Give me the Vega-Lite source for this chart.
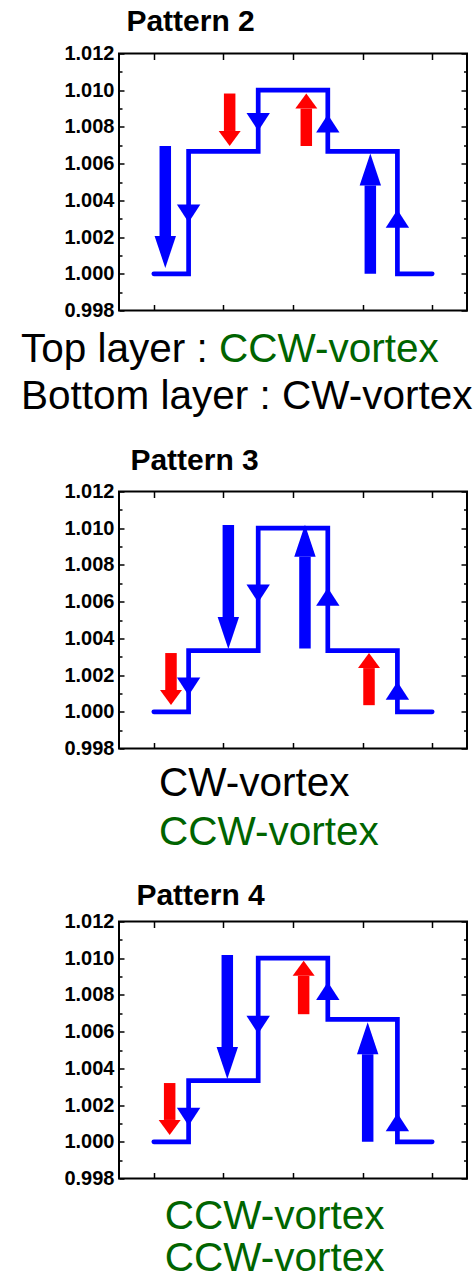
{
  "$schema": "https://vega.github.io/schema/vega-lite/v6.json",
  "padding": {"left": 20, "top": 5.5, "right": 0, "bottom": 0},
  "spacing": 25,
  "config": {
    "view": {"stroke": "#000000", "strokeWidth": 2},
    "axis": {"domain": false, "grid": false, "tickColor": "#000000", "tickWidth": 1.5, "labelFont": "Liberation Sans", "labelFontSize": 20, "labelFontWeight": "bold", "labelColor": "#000000"},
    "title": {"font": "Liberation Sans", "fontSize": 30, "fontWeight": "bold", "color": "#000000"},
    "text": {"font": "Liberation Sans", "fontSize": 40.5}
  },
  "datasets": {
    "step": [
      {"panel": 2, "x": 1, "y": 1.0}, {"panel": 2, "x": 1.5, "y": 1.00667}, {"panel": 2, "x": 2.5, "y": 1.01}, {"panel": 2, "x": 3.5, "y": 1.00667}, {"panel": 2, "x": 4.5, "y": 1.0}, {"panel": 2, "x": 5, "y": 1.0},
      {"panel": 3, "x": 1, "y": 1.0}, {"panel": 3, "x": 1.5, "y": 1.00333}, {"panel": 3, "x": 2.5, "y": 1.01}, {"panel": 3, "x": 3.5, "y": 1.00333}, {"panel": 3, "x": 4.5, "y": 1.0}, {"panel": 3, "x": 5, "y": 1.0},
      {"panel": 4, "x": 1, "y": 1.0}, {"panel": 4, "x": 1.5, "y": 1.00333}, {"panel": 4, "x": 2.5, "y": 1.01}, {"panel": 4, "x": 3.5, "y": 1.00667}, {"panel": 4, "x": 4.5, "y": 1.0}, {"panel": 4, "x": 5, "y": 1.0}
    ],
    "arrows": [
      {"panel": 2, "kind": "main", "dir": "down", "x": 1.165, "from": 1.00696, "to": 1.00206},
      {"panel": 2, "kind": "main", "dir": "up", "x": 4.111, "from": 1.0, "to": 1.00481},
      {"panel": 2, "kind": "minor", "dir": "down", "x": 2.09, "from": 1.00982, "to": 1.00778},
      {"panel": 2, "kind": "minor", "dir": "up", "x": 3.191, "from": 1.00696, "to": 1.009},
      {"panel": 3, "kind": "main", "dir": "down", "x": 2.071, "from": 1.01018, "to": 1.00516},
      {"panel": 3, "kind": "main", "dir": "up", "x": 3.172, "from": 1.00345, "to": 1.00844},
      {"panel": 3, "kind": "minor", "dir": "down", "x": 1.247, "from": 1.0032, "to": 1.00118},
      {"panel": 3, "kind": "minor", "dir": "up", "x": 4.092, "from": 1.00036, "to": 1.00238},
      {"panel": 4, "kind": "main", "dir": "down", "x": 2.056, "from": 1.01018, "to": 1.00517},
      {"panel": 4, "kind": "main", "dir": "up", "x": 4.073, "from": 1.0, "to": 1.00477},
      {"panel": 4, "kind": "minor", "dir": "down", "x": 1.228, "from": 1.0032, "to": 1.00119},
      {"panel": 4, "kind": "minor", "dir": "up", "x": 3.153, "from": 1.00695, "to": 1.00904}
    ],
    "turns": [
      {"panel": 2, "x": 1.5, "base": 1.00378, "dir": "down"}, {"panel": 2, "x": 2.5, "base": 1.00876, "dir": "down"}, {"panel": 2, "x": 3.5, "base": 1.00769, "dir": "up"}, {"panel": 2, "x": 4.5, "base": 1.00251, "dir": "up"},
      {"panel": 3, "x": 1.5, "base": 1.00187, "dir": "down"}, {"panel": 3, "x": 2.5, "base": 1.00693, "dir": "down"}, {"panel": 3, "x": 3.5, "base": 1.00578, "dir": "up"}, {"panel": 3, "x": 4.5, "base": 1.00065, "dir": "up"},
      {"panel": 4, "x": 1.5, "base": 1.00185, "dir": "down"}, {"panel": 4, "x": 2.5, "base": 1.00686, "dir": "down"}, {"panel": 4, "x": 3.5, "base": 1.00773, "dir": "up"}, {"panel": 4, "x": 4.5, "base": 1.00058, "dir": "up"}
    ],
    "labels": [
      {"panel": 2, "x": -0.908, "y": 0.9952, "text": "Top layer : ", "sense": "none"},
      {"panel": 2, "x": 1.937, "y": 0.9952, "text": "CCW-vortex", "sense": "CCW"},
      {"panel": 2, "x": -0.908, "y": 0.99261, "text": "Bottom layer : CW-vortex", "sense": "CW"},
      {"panel": 3, "x": 1.075, "y": 0.9954, "text": "CW-vortex", "sense": "CW"},
      {"panel": 3, "x": 1.075, "y": 0.99277, "text": "CCW-vortex", "sense": "CCW"},
      {"panel": 4, "x": 1.157, "y": 0.99527, "text": "CCW-vortex", "sense": "CCW"},
      {"panel": 4, "x": 1.157, "y": 0.99295, "text": "CCW-vortex", "sense": "CCW"}
    ]
  },
  "vconcat": [
    {
      "title": {"text": "Pattern 2", "anchor": "start", "frame": "group", "dx": 7.4, "offset": 6.3},
      "width": 348, "height": 257,
      "resolve": {"axis": {"x": "independent", "y": "independent"}, "scale": {"shape": "independent", "color": "independent"}},
      "layer": [
        {"data": {"name": "step"}, "transform": [{"filter": "datum.panel == 2"}],
         "mark": {"type": "line", "interpolate": "step-after", "color": "#0000ff", "strokeWidth": 4.7, "strokeCap": "round", "strokeJoin": "miter"},
         "encoding": {
           "x": {"field": "x", "type": "quantitative", "scale": {"domain": [0.5, 5.5], "nice": false, "zero": false}, "axis": {"orient": "bottom", "values": [1, 2, 3, 4, 5], "labels": false, "tickSize": -6, "title": null}},
           "y": {"field": "y", "type": "quantitative", "scale": {"domain": [0.998, 1.012], "nice": false, "zero": false}, "axis": {"orient": "left", "values": [0.998, 1.0, 1.002, 1.004, 1.006, 1.008, 1.01, 1.012], "format": ".3f", "tickSize": -5, "labelPadding": 10, "labelFontSize": 20, "title": null}}
         }},
        {"data": {"name": "arrows"}, "transform": [{"filter": "datum.panel == 2"}],
         "mark": {"type": "rule", "strokeWidth": 11.5, "strokeCap": "butt"},
         "encoding": {
           "x": {"field": "x", "type": "quantitative", "scale": {"domain": [0.5, 5.5], "nice": false, "zero": false}, "axis": {"orient": "top", "values": [1, 2, 3, 4, 5], "labels": false, "tickSize": -6, "title": null}},
           "y": {"field": "from", "type": "quantitative", "scale": {"domain": [0.998, 1.012], "nice": false, "zero": false}, "axis": {"orient": "right", "values": [0.998, 1.0, 1.002, 1.004, 1.006, 1.008, 1.01, 1.012], "labels": false, "tickSize": -6, "title": null}},
           "y2": {"field": "to"},
           "color": {"field": "kind", "type": "nominal", "scale": {"domain": ["main", "minor"], "range": ["#0000ff", "#ff0000"]}, "legend": null}
         }},
        {"data": {"name": "arrows"}, "transform": [{"filter": "datum.panel == 2 && datum.kind == 'main'"}],
         "mark": {"type": "point", "filled": true, "size": 4, "opacity": 1, "color": "#0000ff", "strokeWidth": 0},
         "encoding": {
           "x": {"field": "x", "type": "quantitative", "scale": {"domain": [0.5, 5.5], "nice": false, "zero": false}, "axis": null},
           "y": {"field": "to", "type": "quantitative", "scale": {"domain": [0.998, 1.012], "nice": false, "zero": false}, "axis": {"orient": "left", "values": [0.999, 1.001, 1.003, 1.005, 1.007, 1.009, 1.011], "labels": false, "tickSize": -3, "title": null}},
           "shape": {"field": "dir", "type": "nominal", "scale": {"domain": ["down", "up"], "range": ["M-10.7,0L10.7,0L0,32Z", "M-10.7,0L10.7,0L0,-32Z"]}, "legend": null}
         }},
        {"data": {"name": "arrows"}, "transform": [{"filter": "datum.panel == 2 && datum.kind == 'minor'"}],
         "mark": {"type": "point", "filled": true, "size": 4, "opacity": 1, "color": "#ff0000", "strokeWidth": 0},
         "encoding": {
           "x": {"field": "x", "type": "quantitative", "scale": {"domain": [0.5, 5.5], "nice": false, "zero": false}, "axis": null},
           "y": {"field": "to", "type": "quantitative", "scale": {"domain": [0.998, 1.012], "nice": false, "zero": false}, "axis": {"orient": "right", "values": [0.999, 1.001, 1.003, 1.005, 1.007, 1.009, 1.011], "labels": false, "tickSize": -3.5, "title": null}},
           "shape": {"field": "dir", "type": "nominal", "scale": {"domain": ["down", "up"], "range": ["M-11,0L11,0L0,15Z", "M-11,0L11,0L0,-15Z"]}, "legend": null}
         }},
        {"data": {"name": "turns"}, "transform": [{"filter": "datum.panel == 2"}],
         "mark": {"type": "point", "filled": true, "size": 4, "opacity": 1, "color": "#0000ff", "strokeWidth": 0},
         "encoding": {
           "x": {"field": "x", "type": "quantitative", "scale": {"domain": [0.5, 5.5], "nice": false, "zero": false}, "axis": null},
           "y": {"field": "base", "type": "quantitative", "scale": {"domain": [0.998, 1.012], "nice": false, "zero": false}, "axis": null},
           "shape": {"field": "dir", "type": "nominal", "scale": {"domain": ["down", "up"], "range": ["M-11.7,0L11.7,0L0,18Z", "M-11.7,0L11.7,0L0,-18Z"]}, "legend": null}
         }},
        {"data": {"name": "labels"}, "transform": [{"filter": "datum.panel == 2"}],
         "mark": {"type": "text", "align": "left", "baseline": "alphabetic"},
         "encoding": {
           "x": {"field": "x", "type": "quantitative", "scale": {"domain": [0.5, 5.5], "nice": false, "zero": false}, "axis": null},
           "y": {"field": "y", "type": "quantitative", "scale": {"domain": [0.998, 1.012], "nice": false, "zero": false}, "axis": null},
           "text": {"field": "text"},
           "color": {"field": "sense", "type": "nominal", "scale": {"domain": ["CCW", "CW", "none"], "range": ["#006400", "#000000", "#000000"]}, "legend": null}
         }}
      ]
    },
    {
      "title": {"text": "Pattern 3", "anchor": "start", "frame": "group", "dx": 11.4, "offset": 5.4},
      "width": 348, "height": 257,
      "resolve": {"axis": {"x": "independent", "y": "independent"}, "scale": {"shape": "independent", "color": "independent"}},
      "layer": [
        {"data": {"name": "step"}, "transform": [{"filter": "datum.panel == 3"}],
         "mark": {"type": "line", "interpolate": "step-after", "color": "#0000ff", "strokeWidth": 4.7, "strokeCap": "round", "strokeJoin": "miter"},
         "encoding": {
           "x": {"field": "x", "type": "quantitative", "scale": {"domain": [0.5, 5.5], "nice": false, "zero": false}, "axis": {"orient": "bottom", "values": [1, 2, 3, 4, 5], "labels": false, "tickSize": -6, "title": null}},
           "y": {"field": "y", "type": "quantitative", "scale": {"domain": [0.998, 1.012], "nice": false, "zero": false}, "axis": {"orient": "left", "values": [0.998, 1.0, 1.002, 1.004, 1.006, 1.008, 1.01, 1.012], "format": ".3f", "tickSize": -5, "labelPadding": 10, "labelFontSize": 20, "title": null}}
         }},
        {"data": {"name": "arrows"}, "transform": [{"filter": "datum.panel == 3"}],
         "mark": {"type": "rule", "strokeWidth": 11.5, "strokeCap": "butt"},
         "encoding": {
           "x": {"field": "x", "type": "quantitative", "scale": {"domain": [0.5, 5.5], "nice": false, "zero": false}, "axis": {"orient": "top", "values": [1, 2, 3, 4, 5], "labels": false, "tickSize": -6, "title": null}},
           "y": {"field": "from", "type": "quantitative", "scale": {"domain": [0.998, 1.012], "nice": false, "zero": false}, "axis": {"orient": "right", "values": [0.998, 1.0, 1.002, 1.004, 1.006, 1.008, 1.01, 1.012], "labels": false, "tickSize": -6, "title": null}},
           "y2": {"field": "to"},
           "color": {"field": "kind", "type": "nominal", "scale": {"domain": ["main", "minor"], "range": ["#0000ff", "#ff0000"]}, "legend": null}
         }},
        {"data": {"name": "arrows"}, "transform": [{"filter": "datum.panel == 3 && datum.kind == 'main'"}],
         "mark": {"type": "point", "filled": true, "size": 4, "opacity": 1, "color": "#0000ff", "strokeWidth": 0},
         "encoding": {
           "x": {"field": "x", "type": "quantitative", "scale": {"domain": [0.5, 5.5], "nice": false, "zero": false}, "axis": null},
           "y": {"field": "to", "type": "quantitative", "scale": {"domain": [0.998, 1.012], "nice": false, "zero": false}, "axis": {"orient": "left", "values": [0.999, 1.001, 1.003, 1.005, 1.007, 1.009, 1.011], "labels": false, "tickSize": -3, "title": null}},
           "shape": {"field": "dir", "type": "nominal", "scale": {"domain": ["down", "up"], "range": ["M-10.7,0L10.7,0L0,32Z", "M-10.7,0L10.7,0L0,-32Z"]}, "legend": null}
         }},
        {"data": {"name": "arrows"}, "transform": [{"filter": "datum.panel == 3 && datum.kind == 'minor'"}],
         "mark": {"type": "point", "filled": true, "size": 4, "opacity": 1, "color": "#ff0000", "strokeWidth": 0},
         "encoding": {
           "x": {"field": "x", "type": "quantitative", "scale": {"domain": [0.5, 5.5], "nice": false, "zero": false}, "axis": null},
           "y": {"field": "to", "type": "quantitative", "scale": {"domain": [0.998, 1.012], "nice": false, "zero": false}, "axis": {"orient": "right", "values": [0.999, 1.001, 1.003, 1.005, 1.007, 1.009, 1.011], "labels": false, "tickSize": -3.5, "title": null}},
           "shape": {"field": "dir", "type": "nominal", "scale": {"domain": ["down", "up"], "range": ["M-11,0L11,0L0,15Z", "M-11,0L11,0L0,-15Z"]}, "legend": null}
         }},
        {"data": {"name": "turns"}, "transform": [{"filter": "datum.panel == 3"}],
         "mark": {"type": "point", "filled": true, "size": 4, "opacity": 1, "color": "#0000ff", "strokeWidth": 0},
         "encoding": {
           "x": {"field": "x", "type": "quantitative", "scale": {"domain": [0.5, 5.5], "nice": false, "zero": false}, "axis": null},
           "y": {"field": "base", "type": "quantitative", "scale": {"domain": [0.998, 1.012], "nice": false, "zero": false}, "axis": null},
           "shape": {"field": "dir", "type": "nominal", "scale": {"domain": ["down", "up"], "range": ["M-11.7,0L11.7,0L0,18Z", "M-11.7,0L11.7,0L0,-18Z"]}, "legend": null}
         }},
        {"data": {"name": "labels"}, "transform": [{"filter": "datum.panel == 3"}],
         "mark": {"type": "text", "align": "left", "baseline": "alphabetic"},
         "encoding": {
           "x": {"field": "x", "type": "quantitative", "scale": {"domain": [0.5, 5.5], "nice": false, "zero": false}, "axis": null},
           "y": {"field": "y", "type": "quantitative", "scale": {"domain": [0.998, 1.012], "nice": false, "zero": false}, "axis": null},
           "text": {"field": "text"},
           "color": {"field": "sense", "type": "nominal", "scale": {"domain": ["CCW", "CW", "none"], "range": ["#006400", "#000000", "#000000"]}, "legend": null}
         }}
      ]
    },
    {
      "title": {"text": "Pattern 4", "anchor": "start", "frame": "group", "dx": 17.4, "offset": 0.5},
      "width": 348, "height": 257,
      "resolve": {"axis": {"x": "independent", "y": "independent"}, "scale": {"shape": "independent", "color": "independent"}},
      "layer": [
        {"data": {"name": "step"}, "transform": [{"filter": "datum.panel == 4"}],
         "mark": {"type": "line", "interpolate": "step-after", "color": "#0000ff", "strokeWidth": 4.7, "strokeCap": "round", "strokeJoin": "miter"},
         "encoding": {
           "x": {"field": "x", "type": "quantitative", "scale": {"domain": [0.5, 5.5], "nice": false, "zero": false}, "axis": {"orient": "bottom", "values": [1, 2, 3, 4, 5], "labels": false, "tickSize": -6, "title": null}},
           "y": {"field": "y", "type": "quantitative", "scale": {"domain": [0.998, 1.012], "nice": false, "zero": false}, "axis": {"orient": "left", "values": [0.998, 1.0, 1.002, 1.004, 1.006, 1.008, 1.01, 1.012], "format": ".3f", "tickSize": -5, "labelPadding": 10, "labelFontSize": 20, "title": null}}
         }},
        {"data": {"name": "arrows"}, "transform": [{"filter": "datum.panel == 4"}],
         "mark": {"type": "rule", "strokeWidth": 11.5, "strokeCap": "butt"},
         "encoding": {
           "x": {"field": "x", "type": "quantitative", "scale": {"domain": [0.5, 5.5], "nice": false, "zero": false}, "axis": {"orient": "top", "values": [1, 2, 3, 4, 5], "labels": false, "tickSize": -6, "title": null}},
           "y": {"field": "from", "type": "quantitative", "scale": {"domain": [0.998, 1.012], "nice": false, "zero": false}, "axis": {"orient": "right", "values": [0.998, 1.0, 1.002, 1.004, 1.006, 1.008, 1.01, 1.012], "labels": false, "tickSize": -6, "title": null}},
           "y2": {"field": "to"},
           "color": {"field": "kind", "type": "nominal", "scale": {"domain": ["main", "minor"], "range": ["#0000ff", "#ff0000"]}, "legend": null}
         }},
        {"data": {"name": "arrows"}, "transform": [{"filter": "datum.panel == 4 && datum.kind == 'main'"}],
         "mark": {"type": "point", "filled": true, "size": 4, "opacity": 1, "color": "#0000ff", "strokeWidth": 0},
         "encoding": {
           "x": {"field": "x", "type": "quantitative", "scale": {"domain": [0.5, 5.5], "nice": false, "zero": false}, "axis": null},
           "y": {"field": "to", "type": "quantitative", "scale": {"domain": [0.998, 1.012], "nice": false, "zero": false}, "axis": {"orient": "left", "values": [0.999, 1.001, 1.003, 1.005, 1.007, 1.009, 1.011], "labels": false, "tickSize": -3, "title": null}},
           "shape": {"field": "dir", "type": "nominal", "scale": {"domain": ["down", "up"], "range": ["M-10.7,0L10.7,0L0,32Z", "M-10.7,0L10.7,0L0,-32Z"]}, "legend": null}
         }},
        {"data": {"name": "arrows"}, "transform": [{"filter": "datum.panel == 4 && datum.kind == 'minor'"}],
         "mark": {"type": "point", "filled": true, "size": 4, "opacity": 1, "color": "#ff0000", "strokeWidth": 0},
         "encoding": {
           "x": {"field": "x", "type": "quantitative", "scale": {"domain": [0.5, 5.5], "nice": false, "zero": false}, "axis": null},
           "y": {"field": "to", "type": "quantitative", "scale": {"domain": [0.998, 1.012], "nice": false, "zero": false}, "axis": {"orient": "right", "values": [0.999, 1.001, 1.003, 1.005, 1.007, 1.009, 1.011], "labels": false, "tickSize": -3.5, "title": null}},
           "shape": {"field": "dir", "type": "nominal", "scale": {"domain": ["down", "up"], "range": ["M-11,0L11,0L0,15Z", "M-11,0L11,0L0,-15Z"]}, "legend": null}
         }},
        {"data": {"name": "turns"}, "transform": [{"filter": "datum.panel == 4"}],
         "mark": {"type": "point", "filled": true, "size": 4, "opacity": 1, "color": "#0000ff", "strokeWidth": 0},
         "encoding": {
           "x": {"field": "x", "type": "quantitative", "scale": {"domain": [0.5, 5.5], "nice": false, "zero": false}, "axis": null},
           "y": {"field": "base", "type": "quantitative", "scale": {"domain": [0.998, 1.012], "nice": false, "zero": false}, "axis": null},
           "shape": {"field": "dir", "type": "nominal", "scale": {"domain": ["down", "up"], "range": ["M-11.7,0L11.7,0L0,18Z", "M-11.7,0L11.7,0L0,-18Z"]}, "legend": null}
         }},
        {"data": {"name": "labels"}, "transform": [{"filter": "datum.panel == 4"}],
         "mark": {"type": "text", "align": "left", "baseline": "alphabetic"},
         "encoding": {
           "x": {"field": "x", "type": "quantitative", "scale": {"domain": [0.5, 5.5], "nice": false, "zero": false}, "axis": null},
           "y": {"field": "y", "type": "quantitative", "scale": {"domain": [0.998, 1.012], "nice": false, "zero": false}, "axis": null},
           "text": {"field": "text"},
           "color": {"field": "sense", "type": "nominal", "scale": {"domain": ["CCW", "CW", "none"], "range": ["#006400", "#000000", "#000000"]}, "legend": null}
         }}
      ]
    }
  ]
}
